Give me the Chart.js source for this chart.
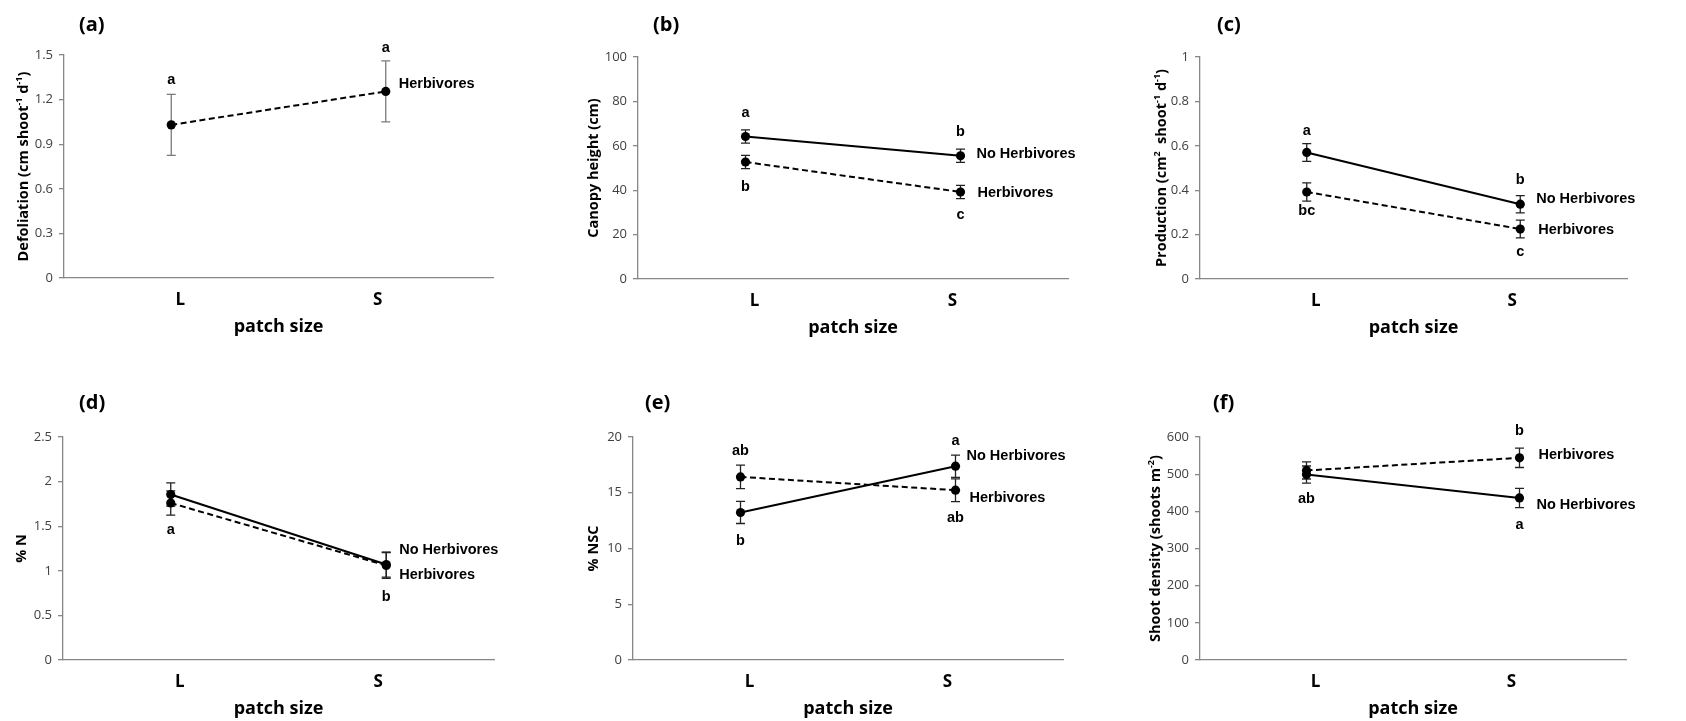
<!DOCTYPE html>
<html><head><meta charset="utf-8">
<script src="https://cdn.jsdelivr.net/npm/chart.js@4.4.1/dist/chart.umd.min.js"></script>
<style>
html,body{margin:0;padding:0;background:#fff;}
#wrap{position:relative;width:1686px;height:721px;overflow:hidden;background:#fff;}
#wrap canvas{position:absolute;}
</style></head><body><div id="wrap"></div>
<script>
// ---------------- DATA ----------------
const categories = ['L', 'S'];
const xAxisTitle = 'patch size';
const seriesNames = ['No Herbivores', 'Herbivores'];

// (a) Defoliation
const defolHerb = [1.03, 1.255];
const defolHerbErr = [0.205, 0.205];
const defolHerbLetters = ['a', 'a'];
const ticksA = [0, 0.3, 0.6, 0.9, 1.2, 1.5];

// (b) Canopy height
const canopyNoHerb = [64.2, 55.5];
const canopyNoHerbErr = [3, 3];
const canopyNoHerbLetters = ['a', 'b'];
const canopyHerb = [52.7, 39.2];
const canopyHerbErr = [3, 3];
const canopyHerbLetters = ['b', 'c'];
const ticksB = [0, 20, 40, 60, 80, 100];

// (c) Production
const prodNoHerb = [0.570, 0.337];
const prodNoHerbErr = [0.04, 0.039];
const prodNoHerbLetters = ['a', 'b'];
const prodHerb = [0.392, 0.225];
const prodHerbErr = [0.041, 0.04];
const prodHerbLetters = ['bc', 'c'];
const ticksC = [0, 0.2, 0.4, 0.6, 0.8, 1];

// (d) % N
const nNoHerb = [1.855, 1.07];
const nNoHerbErr = [0.13, 0.14];
const nNoHerbLetters = ['', ''];
const nHerb = [1.76, 1.06];
const nHerbErr = [0.135, 0.145];
const nHerbLetters = ['a', 'b'];
const ticksD = [0, 0.5, 1, 1.5, 2, 2.5];

// (e) % NSC
const nscNoHerb = [13.23, 17.38];
const nscNoHerbErr = [0.99, 1.0];
const nscNoHerbLetters = ['b', 'a'];
const nscHerb = [16.42, 15.23];
const nscHerbErr = [1.05, 1.02];
const nscHerbLetters = ['ab', 'ab'];
const ticksE = [0, 5, 10, 15, 20];

// (f) Shoot density
const densNoHerb = [499, 436];
const densNoHerbErr = [23, 26];
const densNoHerbLetters = ['ab', 'a'];
const densHerb = [510, 544];
const densHerbErr = [23, 26];
const densHerbLetters = ['', 'b'];
const ticksF = [0, 100, 200, 300, 400, 500, 600];

// y-axis titles: [text, isSuperscript] pieces
const yTitleA = [['Defoliation (cm shoot', 0], ['-1', 1], [' d', 0], ['-1', 1], [')', 0]];
const yTitleB = [['Canopy height (cm)', 0]];
const yTitleC = [['Production (cm', 0], ['2', 1], ['  shoot', 0], ['-1', 1], [' d', 0], ['-1', 1], [')', 0]];
const yTitleD = [['% N', 0]];
const yTitleE = [['% NSC', 0]];
const yTitleF = [['Shoot density (shoots m', 0], ['-2', 1], [')', 0]];

// ---------------- LAYOUT / STYLE ----------------
const AXIS_COLOR = '#878787';
const TICK_FONT = "'Open Sans', 'DejaVu Sans', sans-serif";
const ANNO_FONT = "'Liberation Sans', Arial, sans-serif";
const X_AXIS_H = 60;
const Y_TITLE_SIZE = 14.5;

const panels = [
  { cell:[0,0,560,360], area:[64,55,493,278], title:'(a)', titleAt:[79,25], yGap:41.5,
    yTitle:yTitleA, ticks:ticksA, errColor:'#7a7a7a',
    series:[
      {name:seriesNames[1], data:defolHerb, err:defolHerbErr, dash:true, letters:defolHerbLetters,
       lpos:['above','above'], lgap:[14,13], label:[13,-7]}
    ]},
  { cell:[560,0,560,360], area:[638,57,1068,279], title:'(b)', titleAt:[653,25], yGap:45.5,
    yTitle:yTitleB, ticks:ticksB, errColor:'#222',
    series:[
      {name:seriesNames[0], data:canopyNoHerb, err:canopyNoHerbErr, dash:false, letters:canopyNoHerbLetters,
       lpos:['above','above'], lgap:[17,17], label:[16,-2]},
      {name:seriesNames[1], data:canopyHerb, err:canopyHerbErr, dash:true, letters:canopyHerbLetters,
       lpos:['below','below'], lgap:[18,16], label:[17,1]}
    ]},
  { cell:[1120,0,566,360], area:[1200,57,1627,279], title:'(c)', titleAt:[1217,25], yGap:39,
    yTitle:yTitleC, ticks:ticksC, errColor:'#222',
    series:[
      {name:seriesNames[0], data:prodNoHerb, err:prodNoHerbErr, dash:false, letters:prodNoHerbLetters,
       lpos:['above','above'], lgap:[13,16], label:[16,-5]},
      {name:seriesNames[1], data:prodHerb, err:prodHerbErr, dash:true, letters:prodHerbLetters,
       lpos:['below','below'], lgap:[10,14], label:[18,1]}
    ]},
  { cell:[0,360,560,361], area:[63,437,494,660], title:'(d)', titleAt:[79,403], yGap:42,
    yTitle:yTitleD, ticks:ticksD, errColor:'#222',
    series:[
      {name:seriesNames[0], data:nNoHerb, err:nNoHerbErr, dash:false, letters:nNoHerbLetters,
       lpos:['above','above'], lgap:[14,14], label:[13,-15]},
      {name:seriesNames[1], data:nHerb, err:nHerbErr, dash:true, letters:nHerbLetters,
       lpos:['below','below'], lgap:[15,19], label:[13,10]}
    ]},
  { cell:[560,360,560,361], area:[633,437,1063,660], title:'(e)', titleAt:[645,403], yGap:40,
    yTitle:yTitleE, ticks:ticksE, errColor:'#222',
    series:[
      {name:seriesNames[0], data:nscNoHerb, err:nscNoHerbErr, dash:false, letters:nscNoHerbLetters,
       lpos:['below','above'], lgap:[17,14], label:[11,-10]},
      {name:seriesNames[1], data:nscHerb, err:nscHerbErr, dash:true, letters:nscHerbLetters,
       lpos:['above','below'], lgap:[14,16], label:[14,8]}
    ]},
  { cell:[1120,360,566,361], area:[1200,437,1626,660], title:'(f)', titleAt:[1213,403], yGap:45.5,
    yTitle:yTitleF, ticks:ticksF, errColor:'#222',
    series:[
      {name:seriesNames[0], data:densNoHerb, err:densNoHerbErr, dash:false, letters:densNoHerbLetters,
       lpos:['below','below'], lgap:[16,17], label:[17,7]},
      {name:seriesNames[1], data:densHerb, err:densHerbErr, dash:true, letters:densHerbLetters,
       lpos:['above','above'], lgap:[17,17], label:[19,-3]}
    ]}
];

function drawRichVertical(ctx, pieces, cx, cy, size) {
  const mainFont = "bold " + size + "px " + TICK_FONT;
  const supFont = "bold " + Math.round(size * 0.62) + "px " + TICK_FONT;
  let total = 0;
  const widths = pieces.map(([t, sup]) => {
    ctx.font = sup ? supFont : mainFont;
    const w = ctx.measureText(t).width;
    total += w;
    return w;
  });
  ctx.save();
  ctx.translate(cx, cy);
  ctx.rotate(-Math.PI / 2);
  ctx.textAlign = 'left';
  ctx.textBaseline = 'alphabetic';
  let x = -total / 2;
  const base = size * 0.36;
  pieces.forEach(([t, sup], i) => {
    ctx.font = sup ? supFont : mainFont;
    ctx.fillText(t, x, sup ? base - size * 0.42 : base);
    x += widths[i];
  });
  ctx.restore();
}

function makePlugin(p) {
  return {
    id: 'panelExtras',
    beforeDatasetsDraw(chart) {
      const ctx = chart.ctx, xs = chart.scales.x, ys = chart.scales.y;
      ctx.save();
      ctx.strokeStyle = p.errColor;
      ctx.lineWidth = 1.3;
      p.series.forEach(s => {
        s.data.forEach((v, i) => {
          const x = xs.getPixelForValue(i);
          const yt = ys.getPixelForValue(v + s.err[i]);
          const yb = ys.getPixelForValue(v - s.err[i]);
          ctx.beginPath();
          ctx.moveTo(x, yt); ctx.lineTo(x, yb);
          ctx.moveTo(x - 4.5, yt); ctx.lineTo(x + 4.5, yt);
          ctx.moveTo(x - 4.5, yb); ctx.lineTo(x + 4.5, yb);
          ctx.stroke();
        });
      });
      ctx.restore();
    },
    afterDraw(chart) {
      const ctx = chart.ctx, xs = chart.scales.x, ys = chart.scales.y;
      const ox = p.cell[0], oy = p.cell[1];
      const ca = chart.chartArea;
      ctx.save();
      ctx.fillStyle = '#000';
      // y-axis title with superscripts
      drawRichVertical(ctx, p.yTitle, ca.left - p.yGap, (ca.top + ca.bottom) / 2, Y_TITLE_SIZE);
      // panel title
      ctx.font = "bold 20px " + TICK_FONT;
      ctx.textAlign = 'left'; ctx.textBaseline = 'middle';
      ctx.fillText(p.title, p.titleAt[0] - ox, p.titleAt[1] - oy);
      // category labels
      ctx.font = "bold 17px " + TICK_FONT;
      ctx.textAlign = 'center';
      const shift = [9, -8];
      categories.forEach((c, i) => {
        ctx.fillText(c, xs.getPixelForValue(i) + shift[i], ca.bottom + 22);
      });
      // letters and series labels
      ctx.font = "bold 14.5px " + ANNO_FONT;
      p.series.forEach(s => {
        s.letters.forEach((t, i) => {
          if (!t) return;
          const x = xs.getPixelForValue(i);
          let y;
          if (s.lpos[i] === 'above') y = ys.getPixelForValue(s.data[i] + s.err[i]) - s.lgap[i];
          else y = ys.getPixelForValue(s.data[i] - s.err[i]) + s.lgap[i];
          ctx.textAlign = 'center';
          ctx.fillText(t, x, y);
        });
        const last = s.data.length - 1;
        ctx.textAlign = 'left';
        ctx.fillText(s.name, xs.getPixelForValue(last) + s.label[0], ys.getPixelForValue(s.data[last]) + s.label[1]);
      });
      ctx.restore();
    }
  };
}

const wrap = document.getElementById('wrap');
panels.forEach(p => {
  const [cx, cy, cw, ch] = p.cell;
  const [L, T, R, B] = p.area;
  const yW = 50;
  const cv = document.createElement('canvas');
  cv.width = cw; cv.height = ch;
  cv.style.left = cx + 'px'; cv.style.top = cy + 'px';
  cv.style.width = cw + 'px'; cv.style.height = ch + 'px';
  wrap.appendChild(cv);
  const datasets = p.series.map(s => ({
    label: s.name,
    data: s.data,
    borderColor: '#000',
    backgroundColor: '#000',
    borderWidth: 2,
    borderDash: s.dash ? [6, 3.5] : [],
    pointRadius: 4.6,
    pointBorderWidth: 0,
    pointBackgroundColor: '#000',
    tension: 0,
    clip: false
  }));
  new Chart(cv, {
    type: 'line',
    data: { labels: categories, datasets },
    options: {
      responsive: false,
      devicePixelRatio: 1,
      animation: false,
      events: [],
      layout: { padding: { left: L - yW - cx, top: T - cy, right: cx + cw - R, bottom: cy + ch - B - X_AXIS_H } },
      plugins: { legend: { display: false }, tooltip: { enabled: false }, title: { display: false } },
      scales: {
        x: {
          type: 'category',
          offset: true,
          grid: { display: false, drawTicks: false },
          border: { display: true, color: AXIS_COLOR, width: 1.3 },
          ticks: { display: false },
          title: { display: true, text: xAxisTitle, color: '#000', padding: 0,
                   font: { family: TICK_FONT, size: 18, weight: 'bold', lineHeight: 1.2 } },
          afterFit(s) { s.height = X_AXIS_H; }
        },
        y: {
          type: 'linear',
          min: p.ticks[0],
          max: p.ticks[p.ticks.length - 1],
          afterBuildTicks(s) { s.ticks = p.ticks.map(v => ({ value: v })); },
          grid: { display: true, drawOnChartArea: false, drawTicks: true, tickLength: 5, color: AXIS_COLOR, lineWidth: 1.3 },
          border: { display: true, color: AXIS_COLOR, width: 1.3 },
          ticks: { color: '#404040', padding: 6, font: { family: TICK_FONT, size: 13 },
                   callback: v => String(+Number(v).toFixed(2)) },
          title: { display: false },
          afterFit(s) { s.width = yW; }
        }
      }
    },
    plugins: [makePlugin(p)]
  });
});
</script>
</body></html>
